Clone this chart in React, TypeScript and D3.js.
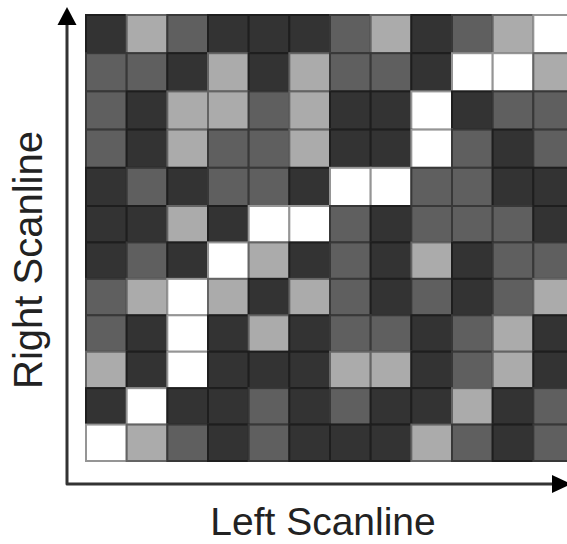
import React from "react";
import * as d3 from "d3";

// grey level of every cell, top row first (0 dark, 1 mid, 2 light, 3 white)
const cellLevels: number[][] = [
  [0, 2, 1, 0, 0, 0, 1, 2, 0, 1, 2, 3],
  [1, 1, 0, 2, 0, 2, 1, 1, 0, 3, 3, 2],
  [1, 0, 2, 2, 1, 2, 0, 0, 3, 0, 1, 1],
  [1, 0, 2, 1, 1, 2, 0, 0, 3, 1, 0, 1],
  [0, 1, 0, 1, 1, 0, 3, 3, 1, 1, 0, 0],
  [0, 0, 2, 0, 3, 3, 1, 0, 1, 1, 1, 0],
  [0, 1, 0, 3, 2, 0, 1, 0, 2, 0, 1, 1],
  [1, 2, 3, 2, 0, 2, 1, 0, 1, 0, 1, 2],
  [1, 0, 3, 0, 2, 0, 1, 1, 0, 1, 2, 0],
  [2, 0, 3, 0, 0, 0, 2, 2, 0, 1, 2, 0],
  [0, 3, 0, 0, 1, 0, 1, 0, 0, 2, 0, 1],
  [3, 2, 1, 0, 1, 0, 0, 0, 2, 1, 0, 1],
];

const shades = ["#333333", "#5f5f5f", "#ababab", "#ffffff"];
const xLabel = "Left Scanline";
const yLabel = "Right Scanline";

const width = 567;
const height = 544;

export default function App() {
  const nCols = cellLevels[0].length;
  const nRows = cellLevels.length;

  const x = d3.scaleLinear().domain([0, nCols]).range([86, 574]);
  // the source image is slightly squeezed in its lower half
  const y = d3.scaleLinear().domain([0, 5, nRows]).range([15, 206, 461]);

  const axisX = 67;
  const axisY = 484;

  const cells = cellLevels.flatMap((row, i) =>
    row.map((v, j) => ({ i, j, v }))
  );

  const up = d3.path();
  up.moveTo(axisX, 7);
  up.lineTo(axisX - 9.5, 25);
  up.lineTo(axisX + 9.5, 25);
  up.closePath();

  const right = d3.path();
  right.moveTo(571, axisY);
  right.lineTo(552, axisY - 9);
  right.lineTo(552, axisY + 9);
  right.closePath();

  return (
    <svg
      width={width}
      height={height}
      style={{ position: "absolute", left: 0, top: 0, background: "#fff" }}
      fontFamily="'Liberation Sans', Arial, sans-serif"
    >
      <g>
        {cells.map((c) => {
          const fill = shades[c.v];
          return (
            <rect
              key={`${c.i}-${c.j}`}
              x={x(c.j)}
              y={y(c.i)}
              width={x(c.j + 1) - x(c.j)}
              height={y(c.i + 1) - y(c.i)}
              fill={fill}
              stroke={d3.color(fill)!.darker(1.5).formatHex()}
              strokeWidth={2}
            />
          );
        })}
      </g>

      <path
        d={`M${axisX},22 L${axisX},${axisY} L556,${axisY}`}
        fill="none"
        stroke="#333"
        strokeWidth={3}
        strokeLinejoin="round"
      />
      <path d={up.toString()} fill="#000" />
      <path d={right.toString()} fill="#000" />

      <text
        x={323}
        y={535}
        textAnchor="middle"
        fontSize={39}
        fill="#222"
      >
        {xLabel}
      </text>
      <text
        transform={`translate(42,260) rotate(-90)`}
        textAnchor="middle"
        fontSize={40}
        fill="#222"
      >
        {yLabel}
      </text>
    </svg>
  );
}
